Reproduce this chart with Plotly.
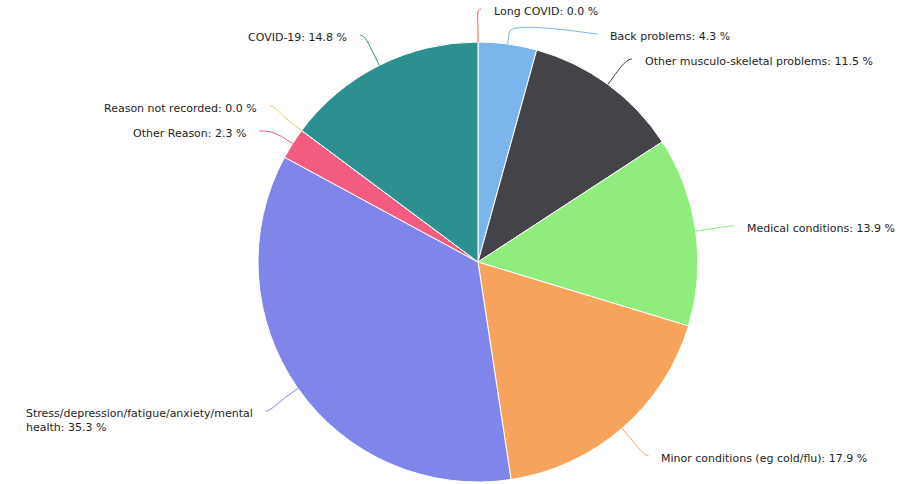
import math
import plotly.graph_objects as go

# Sickness absence reasons, clockwise from 12 o'clock
reasons = [
    "Long COVID",
    "Back problems",
    "Other musculo-skeletal problems",
    "Medical conditions",
    "Minor conditions (eg cold/flu)",
    "Stress/depression/fatigue/anxiety/mental health",
    "Other Reason",
    "Reason not recorded",
    "COVID-19",
]
shares = [0.0, 4.3, 11.5, 13.9, 17.9, 35.3, 2.3, 0.0, 14.8]
colors = ["#f45b5b", "#7cb5ec", "#434348", "#90ed7d", "#f7a35c",
          "#8085e9", "#f15c80", "#e4d354", "#2b908f"]
# label text broken over lines where it would be too wide
label_text = [
    "Long COVID",
    "Back problems",
    "Other musculo-skeletal problems",
    "Medical conditions",
    "Minor conditions (eg cold/flu)",
    "Stress/depression/fatigue/anxiety/mental<br>health",
    "Other Reason",
    "Reason not recorded",
    "COVID-19",
]

W, H = 906, 484
CX, CY, R = 478, 262, 220          # pie centre and radius in pixels
LABEL_R = R + 36                   # ring on which the labels sit
CROOK = 12                         # length of the radial part of connectors
MIN_GAP = 25                       # minimum vertical spacing of labels
TEXT_GAP = 11                      # space between connector end and text
FONT = dict(family="DejaVu Sans", size=11, color="#1e1e1e")

fig = go.Figure()
fig.add_trace(go.Pie(
    labels=reasons, values=shares, sort=False, direction="clockwise",
    rotation=0, marker=dict(colors=colors, line=dict(color="#ffffff", width=1)),
    textinfo="none", hoverinfo="label+percent", showlegend=False,
    domain=dict(x=[(CX - R) / W, (CX + R) / W], y=[(H - CY - R) / H, (H - CY + R) / H]),
))

# mid angle of each slice (radians, clockwise from top)
total = sum(shares)
angles, acc = [], 0.0
for v in shares:
    angles.append((acc + v / 2) / total * 2 * math.pi)
    acc += v


def spread(items):
    """Push labels apart vertically, keeping overlapping groups centred."""
    items = sorted(items, key=lambda t: t[1])
    groups = [[it] for it in items]

    def layout(g):
        n = len(g)
        mean = sum(t[1] for t in g) / n
        top = max(mean - (n - 1) * MIN_GAP / 2, 9)
        return [top + k * MIN_GAP for k in range(n)]

    changed = True
    while changed:
        changed = False
        placed = [(g, layout(g)) for g in groups]
        for i in range(len(placed) - 1):
            if placed[i][1][-1] + MIN_GAP > placed[i + 1][1][0] + 1e-6:
                groups = ([g for g, _ in placed[:i]]
                          + [placed[i][0] + placed[i + 1][0]]
                          + [g for g, _ in placed[i + 2:]])
                changed = True
                break
    out = {}
    for g in groups:
        for t, y in zip(g, layout(g)):
            out[t[0]] = y
    return out


right, left = [], []
for i, a in enumerate(angles):
    y0 = CY - LABEL_R * math.cos(a)
    (right if a < math.pi else left).append((i, y0))
ypos = {**spread(right), **spread(left)}

shapes, annotations = [], []
for i, a in enumerate(angles):
    side = 1 if a < math.pi else -1
    sx, sy = math.sin(a), -math.cos(a)
    y_nat = CY + LABEL_R * sy
    y = ypos[i] + (2 if side < 0 else 0)
    if abs(ypos[i] - y_nat) > 5:
        dy = ypos[i] - CY
        x = CX + side * math.sqrt(max(LABEL_R ** 2 - dy ** 2, 0))
    else:
        x = CX + LABEL_R * sx
    tx, ty = CX + R * sx, CY + R * sy                       # touching slice
    bx, by = CX + (R + CROOK) * sx, CY + (R + CROOK) * sy   # break point
    lx = x + side * 3                                       # connector end
    path = (f"M {lx:.1f},{y:.1f} C {lx - side * 5:.1f},{y:.1f} "
            f"{2 * bx - tx:.1f},{2 * by - ty:.1f} {bx:.1f},{by:.1f} L {tx:.1f},{ty:.1f}")
    shapes.append(dict(type="path", path=path, xref="x", yref="y",
                       line=dict(color=colors[i], width=1)))
    annotations.append(dict(
        x=lx + side * TEXT_GAP, y=y - 6, xref="x", yref="y",
        text=f"{label_text[i]}: {shares[i]:.1f} %", showarrow=False,
        xanchor="left" if side > 0 else "right", yanchor="top", align="left",
        font=FONT,
    ))

fig.update_layout(
    width=W, height=H, margin=dict(l=0, r=0, t=0, b=0),
    paper_bgcolor="#ffffff", plot_bgcolor="rgba(0,0,0,0)",
    xaxis=dict(range=[0, W], visible=False, fixedrange=True),
    yaxis=dict(range=[H, 0], visible=False, fixedrange=True),
    shapes=shapes, annotations=annotations,
)
fig.write_html("out.html")
